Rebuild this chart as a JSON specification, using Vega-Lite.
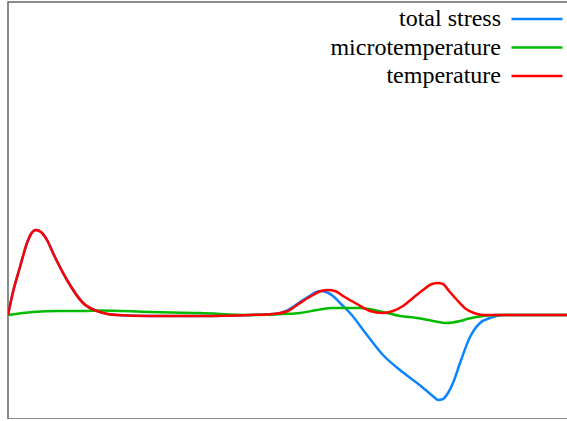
{
  "$schema": "https://vega.github.io/schema/vega-lite/v6.json",
  "width": 565,
  "height": 417,
  "autosize": "none",
  "padding": {"left": 8, "top": 2, "right": 0, "bottom": 0},
  "background": "white",
  "config": {
    "view": {"stroke": "#666666", "strokeWidth": 1.5},
    "font": "Liberation Serif, Times New Roman, serif"
  },
  "datasets": {
    "curves": [
      {"series": "total stress", "t": 0, "v": 0},
      {"series": "total stress", "t": 5, "v": 23},
      {"series": "total stress", "t": 12, "v": 48},
      {"series": "total stress", "t": 19, "v": 72},
      {"series": "total stress", "t": 23, "v": 81},
      {"series": "total stress", "t": 28, "v": 85},
      {"series": "total stress", "t": 33, "v": 83},
      {"series": "total stress", "t": 39, "v": 75},
      {"series": "total stress", "t": 45, "v": 62},
      {"series": "total stress", "t": 59, "v": 35},
      {"series": "total stress", "t": 75, "v": 12},
      {"series": "total stress", "t": 92, "v": 3},
      {"series": "total stress", "t": 109, "v": 0},
      {"series": "total stress", "t": 142, "v": -1},
      {"series": "total stress", "t": 192, "v": -1},
      {"series": "total stress", "t": 242, "v": 0},
      {"series": "total stress", "t": 265, "v": 1},
      {"series": "total stress", "t": 280, "v": 5},
      {"series": "total stress", "t": 292, "v": 13},
      {"series": "total stress", "t": 303, "v": 20},
      {"series": "total stress", "t": 312, "v": 24},
      {"series": "total stress", "t": 318, "v": 23},
      {"series": "total stress", "t": 325, "v": 19},
      {"series": "total stress", "t": 333, "v": 11},
      {"series": "total stress", "t": 342, "v": 2},
      {"series": "total stress", "t": 359, "v": -20},
      {"series": "total stress", "t": 375, "v": -40},
      {"series": "total stress", "t": 392, "v": -55},
      {"series": "total stress", "t": 409, "v": -68},
      {"series": "total stress", "t": 420, "v": -77},
      {"series": "total stress", "t": 426, "v": -82},
      {"series": "total stress", "t": 430, "v": -85},
      {"series": "total stress", "t": 435, "v": -84},
      {"series": "total stress", "t": 440, "v": -78},
      {"series": "total stress", "t": 445, "v": -68},
      {"series": "total stress", "t": 452, "v": -48},
      {"series": "total stress", "t": 462, "v": -22},
      {"series": "total stress", "t": 472, "v": -8},
      {"series": "total stress", "t": 482, "v": -3},
      {"series": "total stress", "t": 495, "v": 0},
      {"series": "total stress", "t": 565, "v": 0},

      {"series": "microtemperature", "t": 0, "v": 0},
      {"series": "microtemperature", "t": 25, "v": 3},
      {"series": "microtemperature", "t": 50, "v": 4},
      {"series": "microtemperature", "t": 75, "v": 4},
      {"series": "microtemperature", "t": 92, "v": 4.5},
      {"series": "microtemperature", "t": 142, "v": 3},
      {"series": "microtemperature", "t": 192, "v": 2},
      {"series": "microtemperature", "t": 242, "v": 0},
      {"series": "microtemperature", "t": 275, "v": 1},
      {"series": "microtemperature", "t": 292, "v": 2},
      {"series": "microtemperature", "t": 309, "v": 5},
      {"series": "microtemperature", "t": 325, "v": 7},
      {"series": "microtemperature", "t": 352, "v": 7},
      {"series": "microtemperature", "t": 375, "v": 3},
      {"series": "microtemperature", "t": 392, "v": -1},
      {"series": "microtemperature", "t": 409, "v": -3},
      {"series": "microtemperature", "t": 425, "v": -6},
      {"series": "microtemperature", "t": 439, "v": -8},
      {"series": "microtemperature", "t": 452, "v": -6},
      {"series": "microtemperature", "t": 459, "v": -4},
      {"series": "microtemperature", "t": 475, "v": -1},
      {"series": "microtemperature", "t": 490, "v": 0},
      {"series": "microtemperature", "t": 565, "v": 0},

      {"series": "temperature", "t": 0, "v": 0},
      {"series": "temperature", "t": 5, "v": 23},
      {"series": "temperature", "t": 12, "v": 48},
      {"series": "temperature", "t": 19, "v": 72},
      {"series": "temperature", "t": 23, "v": 81},
      {"series": "temperature", "t": 28, "v": 85},
      {"series": "temperature", "t": 33, "v": 83},
      {"series": "temperature", "t": 39, "v": 75},
      {"series": "temperature", "t": 45, "v": 62},
      {"series": "temperature", "t": 59, "v": 35},
      {"series": "temperature", "t": 75, "v": 12},
      {"series": "temperature", "t": 92, "v": 3},
      {"series": "temperature", "t": 109, "v": 0},
      {"series": "temperature", "t": 142, "v": -1},
      {"series": "temperature", "t": 192, "v": -1},
      {"series": "temperature", "t": 242, "v": 0},
      {"series": "temperature", "t": 265, "v": 1},
      {"series": "temperature", "t": 280, "v": 4},
      {"series": "temperature", "t": 292, "v": 12},
      {"series": "temperature", "t": 305, "v": 20},
      {"series": "temperature", "t": 313, "v": 24},
      {"series": "temperature", "t": 320, "v": 25},
      {"series": "temperature", "t": 327, "v": 24},
      {"series": "temperature", "t": 335, "v": 19},
      {"series": "temperature", "t": 349, "v": 11},
      {"series": "temperature", "t": 362, "v": 4},
      {"series": "temperature", "t": 375, "v": 2},
      {"series": "temperature", "t": 385, "v": 4},
      {"series": "temperature", "t": 395, "v": 9},
      {"series": "temperature", "t": 405, "v": 17},
      {"series": "temperature", "t": 415, "v": 25},
      {"series": "temperature", "t": 424, "v": 31},
      {"series": "temperature", "t": 430, "v": 32},
      {"series": "temperature", "t": 435, "v": 31},
      {"series": "temperature", "t": 441, "v": 24},
      {"series": "temperature", "t": 449, "v": 15},
      {"series": "temperature", "t": 458, "v": 6},
      {"series": "temperature", "t": 466, "v": 2},
      {"series": "temperature", "t": 475, "v": 0},
      {"series": "temperature", "t": 500, "v": 0},
      {"series": "temperature", "t": 565, "v": 0}
    ]
  },
  "data": {"name": "curves"},
  "mark": {"type": "line", "interpolate": "monotone", "strokeWidth": 2.5, "clip": true},
  "encoding": {
    "x": {"field": "t", "type": "quantitative", "scale": {"domain": [0, 565], "nice": false, "zero": false}, "axis": null},
    "y": {"field": "v", "type": "quantitative", "scale": {"domain": [-104, 313], "nice": false, "zero": false}, "axis": null},
    "color": {
      "field": "series",
      "type": "nominal",
      "scale": {
        "domain": ["total stress", "microtemperature", "temperature"],
        "range": ["#0a84ff", "#00bb00", "#ff0000"]
      },
      "legend": {
        "title": null,
        "orient": "none",
        "legendX": 517,
        "legendY": 5,
        "padding": 0,
        "symbolType": "M-3,0H3",
        "symbolSize": 289,
        "symbolStrokeWidth": 2.5,
        "labelFont": "Liberation Serif, Times New Roman, serif",
        "labelFontSize": 24,
        "labelColor": "black",
        "labelAlign": "right",
        "labelBaseline": "middle",
        "labelOffset": -48,
        "labelLimit": 0,
        "rowPadding": 4.5
      }
    },
    "order": {"field": "t", "type": "quantitative"}
  }
}
